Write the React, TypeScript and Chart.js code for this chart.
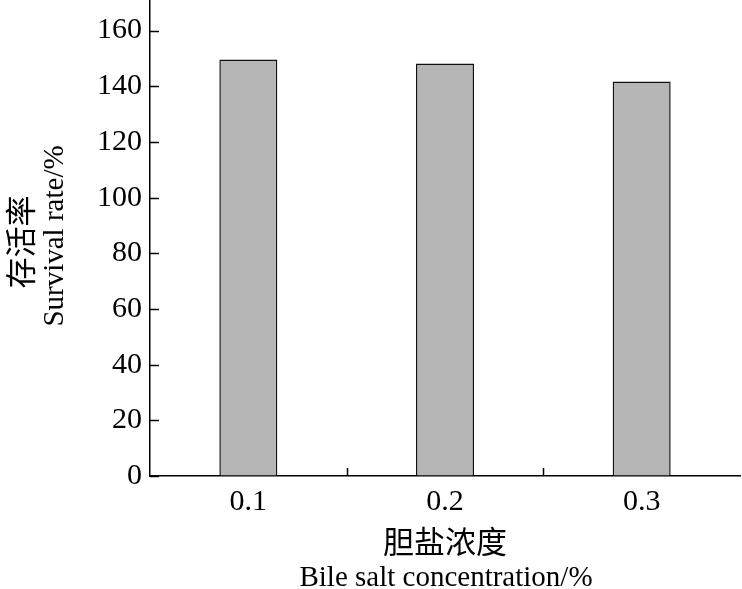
import React, { useEffect, useRef } from "react";
import { Chart, registerables } from "chart.js";

Chart.register(...registerables);

const categories = ["0.1", "0.2", "0.3"];
const survivalRate = [149.6, 148.2, 141.7];
const yTickValues = [0, 20, 40, 60, 80, 100, 120, 140, 160];
const yTitleCn = "存活率";
const yTitleEn = "Survival rate/%";
const xTitleCn = "胆盐浓度";
const xTitleEn = "Bile salt concentration/%";

const SERIF = "'Liberation Serif', 'DejaVu Serif', serif";
const CJK = "'Noto Sans CJK SC', sans-serif";

const customPlugin = {
  id: "customAxes",
  afterDraw(chart: any) {
    const { ctx, chartArea, scales } = chart;
    const x = scales.x;
    const y = scales.y;
    ctx.save();
    ctx.strokeStyle = "#000";
    ctx.lineWidth = 1.5;
    yTickValues.forEach((v) => {
      const py = Math.round(y.getPixelForValue(v)) + 0.5;
      ctx.beginPath();
      ctx.moveTo(chartArea.left, py);
      ctx.lineTo(chartArea.left + 9, py);
      ctx.stroke();
    });
    for (let i = 1; i < categories.length; i++) {
      const px = Math.round(x.getPixelForValue(i - 0.5)) + 0.5;
      ctx.beginPath();
      ctx.moveTo(px, chartArea.bottom);
      ctx.lineTo(px, chartArea.bottom - 8);
      ctx.stroke();
    }
    ctx.fillStyle = "#000";
    ctx.textAlign = "center";
    ctx.textBaseline = "middle";
    ctx.font = `31px ${CJK}`;
    ctx.fillText(xTitleCn, 445, 541);
    ctx.font = `29px ${SERIF}`;
    ctx.fillText(xTitleEn, 446, 578);

    ctx.save();
    ctx.translate(20, 242);
    ctx.rotate(-Math.PI / 2);
    ctx.font = `31px ${CJK}`;
    ctx.fillText(yTitleCn, 0, 0);
    ctx.restore();

    ctx.save();
    ctx.translate(55, 236);
    ctx.rotate(-Math.PI / 2);
    ctx.font = `29px ${SERIF}`;
    ctx.fillText(yTitleEn, 0, 0);
    ctx.restore();

    ctx.restore();
  },
};

export default function App() {
  const ref = useRef<HTMLCanvasElement>(null);
  useEffect(() => {
    if (!ref.current) return;
    const chart = new Chart(ref.current, {
      type: "bar",
      data: {
        labels: categories,
        datasets: [
          {
            data: survivalRate,
            backgroundColor: "#b5b5b5",
            borderColor: "#111",
            borderWidth: 1.5,
            barPercentage: 0.295,
            categoryPercentage: 1,
          },
        ],
      },
      options: {
        responsive: false,
        animation: false,
        devicePixelRatio: 1,
        layout: { padding: { top: 0, right: 2, left: 0, bottom: 0 } },
        plugins: { legend: { display: false }, tooltip: { enabled: false } },
        scales: {
          x: {
            grid: { drawOnChartArea: false, drawTicks: false },
            border: { display: true, color: "#000", width: 1.5 },
            ticks: {
              color: "#000",
              font: { family: SERIF, size: 30 },
              padding: 8,
            },
            afterFit(scale: any) {
              scale.height = 113;
              scale.paddingLeft = 0;
              scale.paddingRight = 0;
            },
          },
          y: {
            min: 0,
            max: 171,
            grid: { drawOnChartArea: false, drawTicks: false },
            border: { display: true, color: "#000", width: 1.5 },
            afterBuildTicks(scale: any) {
              scale.ticks = yTickValues.map((v) => ({ value: v }));
            },
            ticks: {
              color: "#000",
              font: { family: SERIF, size: 30 },
              padding: 8,
            },
            afterFit(scale: any) {
              scale.width = 150;
              scale.paddingTop = 0;
              scale.paddingBottom = 0;
            },
          },
        },
      },
      plugins: [customPlugin],
    });
    return () => chart.destroy();
  }, []);
  return (
    <div style={{ position: "fixed", left: 0, top: 0, width: 742, height: 589, background: "#fff" }}>
      <canvas ref={ref} width={742} height={589} style={{ display: "block" }} />
    </div>
  );
}
